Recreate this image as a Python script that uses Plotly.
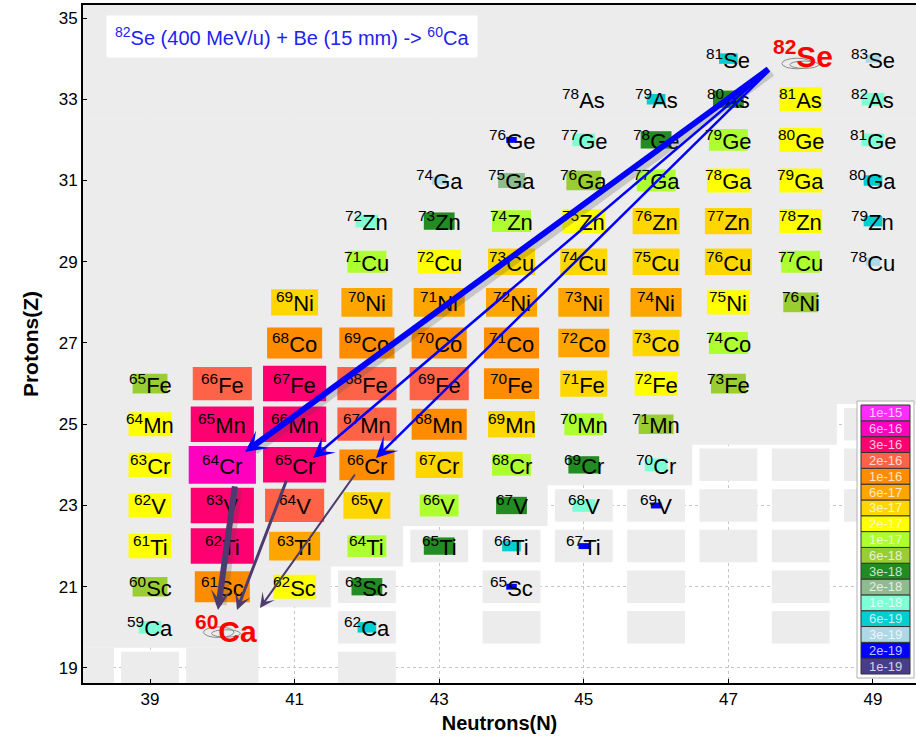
import plotly.graph_objects as go

FONT = "Liberation Sans, Arial, sans-serif"

ELEMENT = {19: "K", 20: "Ca", 21: "Sc", 22: "Ti", 23: "V", 24: "Cr", 25: "Mn", 26: "Fe",
           27: "Co", 28: "Ni", 29: "Cu", 30: "Zn", 31: "Ga", 32: "Ge", 33: "As", 34: "Se"}

# colour key (bottom -> top)
LEVELS = [1e-19, 2e-19, 3e-19, 6e-19, 1e-18, 2e-18, 3e-18, 6e-18, 1e-17, 2e-17,
          3e-17, 6e-17, 1e-16, 2e-16, 3e-16, 6e-16, 1e-15]
LEVEL_LABELS = ["1e-19", "2e-19", "3e-19", "6e-19", "1e-18", "2e-18", "3e-18", "6e-18", "1e-17",
                "2e-17", "3e-17", "6e-17", "1e-16", "2e-16", "3e-16", "6e-16", "1e-15"]
LEVEL_COLORS = ["#483d8b", "#0000ff", "#add8e6", "#00ced1", "#7fffd4", "#8fbc8f", "#228b22",
                "#9acd32", "#adff2f", "#ffff00", "#ffd700", "#ffa500", "#ff8c00", "#ff6347",
                "#ff0070", "#ff00bf", "#ff2bff"]

# nuclides (Z, N, value); None = label only
nuc_Z = [34, 34,
         33, 33, 33, 33, 33,
         32, 32, 32, 32, 32, 32,
         31, 31, 31, 31, 31, 31, 31,
         30, 30, 30, 30, 30, 30, 30, 30,
         29, 29, 29, 29, 29, 29, 29, 29,
         28, 28, 28, 28, 28, 28, 28, 28,
         27, 27, 27, 27, 27, 27, 27,
         26, 26, 26, 26, 26, 26, 26, 26, 26,
         25, 25, 25, 25, 25, 25, 25, 25,
         24, 24, 24, 24, 24, 24, 24, 24,
         23, 23, 23, 23, 23, 23, 23, 23,
         22, 22, 22, 22, 22, 22, 22,
         21, 21, 21, 21, 21,
         20, 20]
nuc_N = [47, 49,
         45, 46, 47, 48, 49,
         44, 45, 46, 47, 48, 49,
         43, 44, 45, 46, 47, 48, 49,
         42, 43, 44, 45, 46, 47, 48, 49,
         42, 43, 44, 45, 46, 47, 48, 49,
         41, 42, 43, 44, 45, 46, 47, 48,
         41, 42, 43, 44, 45, 46, 47,
         39, 40, 41, 42, 43, 44, 45, 46, 47,
         39, 40, 41, 42, 43, 44, 45, 46,
         39, 40, 41, 42, 43, 44, 45, 46,
         39, 40, 41, 42, 43, 44, 45, 46,
         39, 40, 41, 42, 43, 44, 45,
         39, 40, 41, 42, 44,
         39, 42]
nuc_val = [6e-19, 3e-19,
           None, 6e-19, 3e-18, 2e-17, 1e-18,
           2e-19, 1e-18, 3e-18, 1e-17, 2e-17, 1e-18,
           3e-19, 2e-18, 6e-18, 1e-17, 2e-17, 2e-17, 6e-19,
           1e-18, 3e-18, 1e-17, 2e-17, 3e-17, 3e-17, 2e-17, 6e-19,
           1e-17, 2e-17, 3e-17, 3e-17, 3e-17, 3e-17, 1e-17, 3e-19,
           3e-17, 6e-17, 6e-17, 6e-17, 6e-17, 6e-17, 2e-17, 6e-18,
           1e-16, 1e-16, 1e-16, 1e-16, 6e-17, 3e-17, 1e-17,
           6e-18, 2e-16, 3e-16, 2e-16, 2e-16, 1e-16, 3e-17, 2e-17, 6e-18,
           2e-17, 3e-16, 3e-16, 2e-16, 1e-16, 3e-17, 1e-17, 6e-18,
           2e-17, 6e-16, 3e-16, 1e-16, 3e-17, 1e-17, 3e-18, 1e-18,
           2e-17, 3e-16, 2e-16, 3e-17, 1e-17, 3e-18, 1e-18, 2e-19,
           2e-17, 3e-16, 6e-17, 1e-17, 3e-18, 6e-19, 2e-19,
           6e-18, 1e-16, 2e-17, 3e-18, 2e-19,
           1e-18, 6e-19]

# projectile and fragment of interest
proj_N, proj_Z = 48, 34
frag_N, frag_Z = 40, 20

# unobserved nuclei (white cell with grey inner box) and empty cells
unk_N = [39, 42, 42, 44, 46, 48, 42, 44, 46, 48, 43, 44, 45, 46, 47, 48, 45, 46, 47, 48, 49, 47, 48, 49, 49]
unk_Z = [19, 19, 20, 20, 20, 20, 21, 21, 21, 21, 22, 22, 22, 22, 22, 22, 23, 23, 23, 23, 23, 24, 24, 24, 25]
emp_N = [41, 43, 44, 45, 46, 47, 48, 49, 50, 41, 43, 45, 47, 49, 50, 43, 45, 47, 49, 50, 49, 50, 50, 50, 50]
emp_Z = [19, 19, 19, 19, 19, 19, 19, 19, 19, 20, 20, 20, 20, 20, 20, 21, 21, 21, 21, 21, 22, 22, 23, 24, 25]

# reaction-path arrows (tail -> head) in (N, Z)
arrow_tail_N = [47.575, 47.534, 47.575, 40.176, 40.895, 41.849]
arrow_tail_Z = [33.769, 33.671, 33.72, 23.505, 23.652, 23.80]
arrow_head_N = [40.314, 41.254, 42.126, 39.94, 40.203, 40.521]
arrow_head_Z = [24.317, 24.169, 24.169, 20.43, 20.43, 20.477]
arrow_color = ["#0000ff", "#0000ff", "#0000ff", "#4b3b6e", "#4b3b6e", "#4b3b6e"]
arrow_width = [6, 2.5, 2.5, 6, 3, 2]
arrow_size = [0.6, 1.4, 1.4, 0.55, 0.9, 1.25]
arrow_shadow = [True, False, False, True, False, False]

GRAY = "#ececec"
XR = [38.073, 49.595]
YR = [18.63, 35.32]

fig = go.Figure()
fig.add_trace(go.Scatter(x=[XR[0]], y=[YR[0]], mode="markers", marker=dict(opacity=0),
                         hoverinfo="skip", showlegend=False))

shapes = []
special = set(zip(unk_N, unk_Z)) | set(zip(emp_N, emp_Z))
# grey background for observed region, merged into row runs
for Z in range(18, 37):
    run = None
    for N in range(37, 52):
        inside = N <= 50 and (N, Z) not in special
        if inside and run is None:
            run = N
        if (not inside) and run is not None:
            shapes.append(dict(type="rect", xref="x", yref="y", x0=run - 0.5, x1=N - 0.5,
                               y0=Z - 0.505, y1=Z + 0.505, fillcolor=GRAY, line=dict(width=0),
                               layer="between"))
            run = None
# inner boxes of unobserved nuclei
for N, Z in zip(unk_N, unk_Z):
    shapes.append(dict(type="rect", xref="x", yref="y", x0=N - 0.4, x1=N + 0.4, y0=Z - 0.4, y1=Z + 0.4,
                       fillcolor=GRAY, line=dict(width=0), layer="between"))


def level_index(v):
    best = 0
    for i, L in enumerate(LEVELS):
        if abs(L - v) <= abs(LEVELS[best] - v):
            best = i
    return best


# value cells
for Z, N, v in zip(nuc_Z, nuc_N, nuc_val):
    if v is None:
        continue
    b = level_index(v)
    s = min(0.09 + 0.056 * b, 0.98)
    shapes.append(dict(type="rect", xref="x", yref="y", x0=N - s / 2, x1=N + s / 2,
                       y0=Z - s / 2, y1=Z + s / 2, fillcolor=LEVEL_COLORS[b],
                       line=dict(width=0), layer="between"))

# target scribbles on projectile / fragment
for (cn, cz) in [(proj_N, proj_Z), (frag_N, frag_Z)]:
    for dx, dz, w, h in [(-0.05, -0.12, 0.42, 0.26), (0.05, -0.15, 0.40, 0.18)]:
        shapes.append(dict(type="circle", xref="x", yref="y",
                           x0=cn + dx - w / 2, x1=cn + dx + w / 2, y0=cz + dz - h / 2, y1=cz + dz + h / 2,
                           line=dict(color="#8c8c8c", width=1), layer="between"))


# colour key (placed in paper coordinates)
def xp(px):
    return (px - 83) / 833.0


def yp(py):
    return (683 - py) / 678.0


shapes.append(dict(type="rect", xref="paper", yref="paper", x0=xp(857), x1=xp(914), y0=yp(678), y1=yp(401),
                   fillcolor="white", line=dict(color="#b0b0b0", width=1), layer="above"))
annotations = []
top, bot = 405, 674
hbox = (bot - top) / len(LEVELS)
for i, (lab, col) in enumerate(zip(LEVEL_LABELS, LEVEL_COLORS)):
    y1 = bot - i * hbox
    y0 = y1 - hbox
    shapes.append(dict(type="rect", xref="paper", yref="paper", x0=xp(861), x1=xp(910), y0=yp(y1), y1=yp(y0),
                       fillcolor=col, line=dict(color="#333333", width=1), layer="above"))
    annotations.append(dict(xref="paper", yref="paper", x=xp(885.5), y=yp((y0 + y1) / 2), text=lab,
                            showarrow=False, font=dict(family=FONT, size=13, color="rgba(255,255,255,0.78)"),
                            xanchor="center", yanchor="middle"))

# nuclide labels
for Z, N in zip(nuc_Z, nuc_N):
    annotations.append(dict(x=N, y=Z, xref="x", yref="y", showarrow=False,
                            text="<sup>%d</sup>%s" % (N + Z, ELEMENT[Z]),
                            font=dict(family=FONT, size=22, color="black"),
                            xanchor="center", yanchor="middle"))
for (N, Z, ys, xs) in [(proj_N, proj_Z, 5, 2), (frag_N, frag_Z, -2, 4)]:
    annotations.append(dict(x=N, y=Z, xref="x", yref="y", showarrow=False, yshift=ys, xshift=xs,
                            text="<b><sup>%d</sup>%s</b>" % (N + Z, ELEMENT[Z]),
                            font=dict(family=FONT, size=30, color="#ff0000"),
                            xanchor="center", yanchor="middle"))

# arrows (shadows first)
for i in range(len(arrow_tail_N)):
    if arrow_shadow[i]:
        annotations.append(dict(x=arrow_head_N[i], y=arrow_head_Z[i], ax=arrow_tail_N[i], ay=arrow_tail_Z[i],
                                xref="x", yref="y", axref="x", ayref="y", text="", showarrow=True,
                                arrowhead=0, arrowwidth=arrow_width[i] + 3, xshift=3, yshift=-3,
                                arrowcolor="rgba(70,70,70,0.22)", standoff=8))
for i in range(len(arrow_tail_N)):
    annotations.append(dict(x=arrow_head_N[i], y=arrow_head_Z[i], ax=arrow_tail_N[i], ay=arrow_tail_Z[i],
                            xref="x", yref="y", axref="x", ayref="y", text="", showarrow=True,
                            arrowhead=3, arrowsize=arrow_size[i], arrowwidth=arrow_width[i],
                            arrowcolor=arrow_color[i], standoff=0))

# reaction title box
annotations.append(dict(xref="paper", yref="paper", x=xp(292), y=yp(36.5), showarrow=False,
                        text="<sup>82</sup>Se (400 MeV/u) + Be (15 mm) -> <sup>60</sup>Ca",
                        font=dict(family=FONT, size=20, color="#2222ee"), bgcolor="white",
                        borderpad=8, xanchor="center", yanchor="middle"))

fig.update_layout(
    width=916, height=737,
    margin=dict(l=83, r=0, t=5, b=54),
    paper_bgcolor="white", plot_bgcolor="white",
    showlegend=False,
    shapes=shapes, annotations=annotations,
    font=dict(family=FONT, color="black"),
    xaxis=dict(range=XR, tick0=39, dtick=2, showgrid=True, gridcolor="#c4c4c4", griddash="3px,3px",
               gridwidth=1, zeroline=False, showline=True, linecolor="black", linewidth=2, mirror=True,
               ticks="inside", ticklen=4, tickcolor="black", tickfont=dict(size=17, family=FONT),
               title=dict(text="<b>Neutrons(N)</b>", font=dict(size=20, family=FONT), standoff=8),
               automargin=False),
    yaxis=dict(range=YR, tick0=19, dtick=2, showgrid=True, gridcolor="#c4c4c4", griddash="3px,3px",
               gridwidth=1, zeroline=False, showline=True, linecolor="black", linewidth=2,
               ticks="inside", ticklen=4, tickcolor="black", tickfont=dict(size=17, family=FONT),
               title=dict(text="<b>Protons(Z)</b>", font=dict(size=21, family=FONT), standoff=14),
               automargin=False),
)

fig.write_html("out.html", config={"displayModeBar": False},
               post_script="document.body.style.margin='0px';document.body.style.overflow='hidden';")
